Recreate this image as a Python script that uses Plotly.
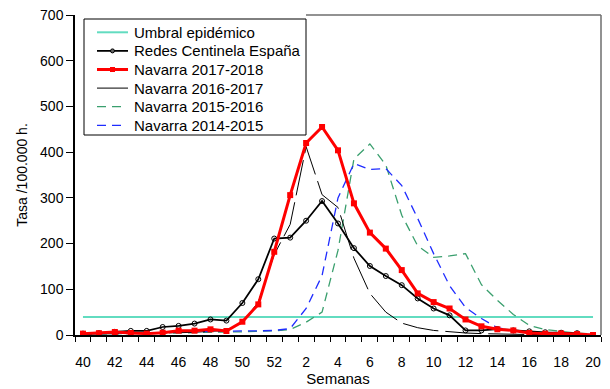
import plotly.graph_objects as go

weeks = [40, 41, 42, 43, 44, 45, 46, 47, 48, 49, 50, 51, 52,
         1, 2, 3, 4, 5, 6, 7, 8, 9, 10, 11, 12, 13, 14, 15, 16, 17, 18, 19, 20]

umbral = [39.5] * len(weeks)

redes = [3, 4, 7, 9, 9, 17.5, 20, 25, 34, 31.5, 70, 122, 211, 213, 250, 293, 244,
         190, 151, 129, 109, 80, 58, 43, 10, 10, 13, 10, 8, 6, 5, 4, None]

nav_1718 = [3, 4, 6.6, 4.4, 3, 5, 9.5, 9.5, 12.4, 8.8, 29, 67, 182, 306, 420, 455, 404,
            288, 224, 189, 142, 91, 72, 58, 34, 19, 12.5, 10, 4.5, 3, 3.5, 2, 0]

nav_1617 = [2, 2, 3, 3, 4, 4, 5, 6, 8, 10, 28, 72, 176, 242, 412, 307, 279,
            168, 91, 50, 26, 16, 10, 6.6, 4.4, 3, 2, 2, 1, 1, 1, 1, 0.5]

nav_1516 = [2, 2, 3, 3, 4, 4, 5, 5, 6, 6, 7, 8, 9, 12, 28, 50, 185,
            385, 418, 372, 262, 195, 170, 173, 178, 110, 76, 45, 21, 12, 8, 4, 2]

nav_1415 = [3, 3, 4, 4, 5, 5, 6, 7, 8, 8, 9, 9, 10, 14, 58, 130, 300,
            375, 362, 364, 327, 255, 178, 108, 60, 36, 16, 9, 5, 3, 2, 1, 1]

legend_labels = ["Umbral epidémico", "Redes Centinela España", "Navarra 2017-2018",
                 "Navarra 2016-2017", "Navarra 2015-2016", "Navarra 2014-2015"]

x = list(range(len(weeks)))
tick_idx = x[::2]
tick_txt = [str(weeks[i]) for i in tick_idx]

FONT = "Liberation Sans, Arial, sans-serif"

styles = {
    "Umbral epidémico": dict(color="#62dcc0", width=2, dash="solid"),
    "Redes Centinela España": dict(color="#000000", width=1.75, dash="solid"),
    "Navarra 2017-2018": dict(color="#ff0000", width=3, dash="solid"),
    "Navarra 2016-2017": dict(color="#000000", width=1, dash="36px,7px"),
    "Navarra 2015-2016": dict(color="#3a9f6e", width=1.3, dash="9px,6px"),
    "Navarra 2014-2015": dict(color="#1f2cff", width=1.3, dash="9px,6px"),
}

fig = go.Figure()
fig.add_trace(go.Scatter(x=x, y=umbral, name=legend_labels[0], mode="lines",
                         line=styles[legend_labels[0]]))
fig.add_trace(go.Scatter(x=x, y=nav_1516, name=legend_labels[4], mode="lines",
                         line=styles[legend_labels[4]]))
fig.add_trace(go.Scatter(x=x, y=nav_1415, name=legend_labels[5], mode="lines",
                         line=styles[legend_labels[5]]))
fig.add_trace(go.Scatter(x=x, y=nav_1617, name=legend_labels[3], mode="lines",
                         line=styles[legend_labels[3]]))
fig.add_trace(go.Scatter(x=x, y=redes, name=legend_labels[1], mode="lines+markers",
                         line=styles[legend_labels[1]],
                         marker=dict(symbol="circle-open", size=5, color="#000000",
                                     line=dict(width=1))))
fig.add_trace(go.Scatter(x=x, y=nav_1718, name=legend_labels[2], mode="lines+markers",
                         line=styles[legend_labels[2]],
                         marker=dict(symbol="square", size=6, color="#ff0000")))

# plot area in pixels
PL, PR, PT, PB = 75, 601, 15, 335
W, H = 610, 389


def px(xp):
    return (xp - PL) / (PR - PL)


def py(yp):
    return (PB - yp) / (PB - PT)


shapes = [
    dict(type="line", xref="paper", yref="paper", x0=1, x1=1, y0=0, y1=1,
         line=dict(color="#6e6e6e", width=1.5)),
    dict(type="line", xref="paper", yref="paper", x0=px(306), x1=1, y0=1, y1=1,
         line=dict(color="#6e6e6e", width=1.5)),
    # legend box
    dict(type="rect", xref="paper", yref="paper", x0=px(84), x1=px(306),
         y0=py(135), y1=py(19), line=dict(color="#000000", width=1),
         fillcolor="white", layer="above"),
]
annotations = []
for k, lab in enumerate(legend_labels):
    yc = 32.3 + 18.6 * k
    st = styles[lab]
    x1 = 121 if st["dash"].startswith("9") else 128
    shapes.append(dict(type="line", xref="paper", yref="paper", x0=px(97), x1=px(x1),
                       y0=py(yc), y1=py(yc), layer="above",
                       line=dict(color=st["color"], width=st["width"],
                                 dash="solid" if st["dash"].startswith("36") else st["dash"])))
    if lab == "Redes Centinela España":
        shapes.append(dict(type="circle", xref="paper", yref="paper",
                           x0=px(110.5), x1=px(114.5), y0=py(yc + 2), y1=py(yc - 2),
                           line=dict(color="#000000", width=1), fillcolor="#666666",
                           layer="above"))
    if lab == "Navarra 2017-2018":
        shapes.append(dict(type="rect", xref="paper", yref="paper",
                           x0=px(110), x1=px(115), y0=py(yc + 2.5), y1=py(yc - 2.5),
                           line=dict(color="#ff0000", width=0), fillcolor="#ff0000",
                           layer="above"))
    annotations.append(dict(text=lab, xref="paper", yref="paper", x=px(132), y=py(yc),
                            xanchor="left", yanchor="middle", showarrow=False,
                            font=dict(family=FONT, size=15, color="#000000")))

fig.update_layout(
    width=W, height=H,
    margin=dict(l=PL, r=W - PR, t=PT, b=H - PB),
    paper_bgcolor="white", plot_bgcolor="white",
    font=dict(family=FONT, size=14, color="#000000"),
    showlegend=False,
    xaxis=dict(range=[-0.5, len(weeks) - 0.5], tickmode="array",
               tickvals=tick_idx, ticktext=tick_txt, automargin=False,
               ticks="outside", ticklen=13, tickcolor="rgba(0,0,0,0)",
               showline=True, linecolor="#000000", linewidth=1.5,
               showgrid=False, zeroline=False,
               minor=dict(tick0=-0.5, dtick=1, ticks="outside", ticklen=5,
                          tickcolor="#000000", showgrid=False),
               title=dict(text="Semanas", font=dict(size=15), standoff=5),
               tickfont=dict(size=14)),
    yaxis=dict(range=[0, 700], dtick=100, ticks="outside", ticklen=7, automargin=False,
               tickcolor="#000000", showline=True, linecolor="#000000", linewidth=1.5,
               showgrid=False, zeroline=False,
               title=dict(text="Tasa /100.000 h.", font=dict(size=14), standoff=9),
               tickfont=dict(size=14)),
    shapes=shapes,
    annotations=annotations,
)

fig.write_html("out.html")
